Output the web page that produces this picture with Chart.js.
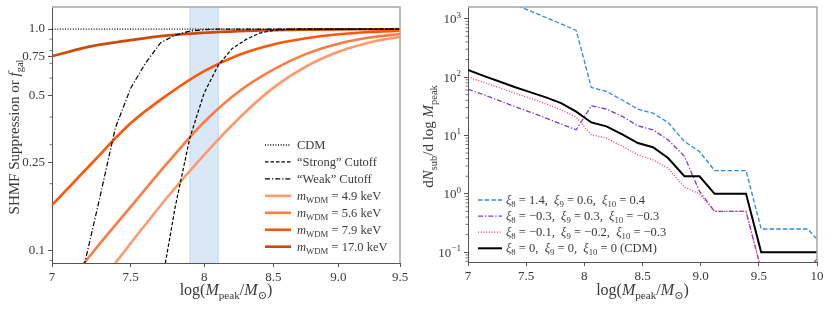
<!DOCTYPE html>
<html>
<head>
<meta charset="utf-8">
<script src="https://cdn.jsdelivr.net/npm/chart.js@4.4.1/dist/chart.umd.min.js"></script>
<style>
  body { margin: 0; background: #fff; }
  #wrap { position: relative; width: 830px; height: 312px; }
  canvas { position: absolute; top: 0; }
</style>
</head>
<body>
<div id="wrap">
  <canvas id="left" width="415" height="312" style="left:0"></canvas>
  <canvas id="right" width="415" height="312" style="left:415px"></canvas>
</div>
<script>
// ---- left panel: SHMF suppression ----
const wdmX = [7.0, 7.25, 7.5, 7.75, 8.0, 8.25, 8.5, 8.75, 9.0, 9.25, 9.5];
const wdm49 = [0.037, 0.064, 0.1075, 0.175, 0.27, 0.396, 0.542, 0.678, 0.789, 0.87, 0.922];
const wdm56 = [0.057, 0.097, 0.157, 0.2495, 0.38, 0.5235, 0.656, 0.772, 0.858, 0.915, 0.95];
const wdm79 = [0.16, 0.248, 0.375, 0.506, 0.645, 0.765, 0.852, 0.908, 0.947, 0.97, 0.983];
const wdm170 = [0.754, 0.837, 0.891, 0.936, 0.962, 0.979, 0.989, 0.994, 0.997, 0.998, 0.999];

const weakX = [7.2, 7.3, 7.4, 7.5, 7.6, 7.7, 7.8, 7.9, 8.0, 8.1, 8.5, 9.0, 9.5];
const weakY = [0.085, 0.173, 0.357, 0.54, 0.704, 0.867, 0.939, 0.979, 0.993, 1.0, 1.0, 1.0, 1.0];
const strongX = [7.7, 7.8, 7.9, 8.0, 8.1, 8.2, 8.3, 8.4, 8.5, 8.6, 8.7, 9.0, 9.5];
const strongY = [0.066, 0.158, 0.322, 0.514, 0.687, 0.817, 0.898, 0.959, 0.986, 0.996, 1.0, 1.0, 1.0];
const cdmX = [7.0, 9.5];
const cdmY = [1.0, 1.0];
const bandRange = [7.9, 8.1];

const leftXTicks = [7, 7.5, 8, 8.5, 9, 9.5];
const leftXLabels = ["7", "7.5", "8", "8.5", "9.0", "9.5"];
const leftYTicks = [0.1, 0.25, 0.5, 0.75, 1.0];
const leftYLabels = ["0.1", "0.25", "0.5", "0.75", "1.0"];
const leftYMinor = [0.09, 0.2, 0.3, 0.4, 0.6, 0.7, 0.8, 0.9];

// ---- right panel: dN/dlogM ----
const subX = [7.0, 7.14, 7.27, 7.4, 7.54, 7.67, 7.8, 7.93, 8.06, 8.19, 8.33, 8.46,
  8.59, 8.72, 8.86, 8.99, 9.12, 9.26, 9.39, 9.52, 9.66, 9.79, 9.92, 10.05];
const blueY = [3680, 2870, 2230, 1730, 1345, 1047, 813, 631, 66.5, 56.8, 40, 28.2,
  24.1, 16.7, 7.9, 5.3, 2.5, 2.5, 2.5, 0.25, 0.25, 0.25, 0.25, 0.13];
const purpleY = [62, 49.5, 39.4, 31.3, 24.9, 19.8, 15.7, 12.5, 32.3, 28.3, 21, 14.6,
  12.5, 8.4, 4.4, 1.1, 0.5, 0.5, 0.5, 0.05, 0.05, 0.05, 0.05, 0.1];
const pinkY = [100, 81, 65.6, 53.2, 43.1, 34.9, 27.5, 20.6, 10.3, 9.0, 6.5, 4.66,
  3.83, 2.75, 1.3, 1.0, 0.5, 0.5, 0.5, 0.05, 0.05, 0.05, 0.05, 0.1];
const cdmSubY = [132, 104, 84, 67.5, 54.6, 44.8, 35.8, 25.5, 16.7, 14.3, 10.3, 7.4,
  6.3, 4.1, 2.0, 2.0, 1.0, 1.0, 1.0, 0.1, 0.1, 0.1, 0.1, 0.1];

const rightXTicks = [7, 7.5, 8, 8.5, 9, 9.5, 10];
const rightXLabels = ["7", "7.5", "8", "8.5", "9.0", "9.5", "10"];
const rightYTicks = [0.1, 1, 10, 100, 1000];
const rightYExp = ["\u22121", "0", "1", "2", "3"];

const FONT = '"Liberation Serif", "DejaVu Serif", serif';
const TXT = "#3a3a3a";
const AX = "#555";

const pts = (xs, ys) => xs.map((x, i) => ({ x, y: ys[i] }));

// draws text made of pieces: r = roman, i = italic, s = subscript, p = superscript
function drawRich(ctx, parts, x, y, size, align) {
  const small = size * 0.7;
  const fontOf = (st) =>
    (st.includes("i") ? "italic " : "") + (st.includes("s") || st.includes("p") ? small : size) + "px " + FONT;
  let w = 0;
  parts.forEach(([t, st]) => { ctx.font = fontOf(st); w += ctx.measureText(t).width; });
  let cx = align === "center" ? x - w / 2 : align === "right" ? x - w : x;
  ctx.textAlign = "left";
  ctx.textBaseline = "alphabetic";
  parts.forEach(([t, st]) => {
    ctx.font = fontOf(st);
    let dy = st.includes("s") ? size * 0.24 : st.includes("p") ? -size * 0.42 : 0;
    ctx.fillText(t, cx, y + dy);
    cx += ctx.measureText(t).width;
  });
}

const deco = {
  id: "deco",
  beforeDatasetsDraw(chart, args, opts) {
    const { ctx, chartArea: a, scales } = chart;
    if (opts.band) {
      const x1 = scales.x.getPixelForValue(opts.band[0]);
      const x2 = scales.x.getPixelForValue(opts.band[1]);
      ctx.save();
      ctx.fillStyle = "rgba(120,170,225,0.28)";
      ctx.fillRect(x1, a.top, x2 - x1, a.bottom - a.top);
      ctx.strokeStyle = "rgba(120,170,225,0.35)";
      ctx.lineWidth = 1;
      ctx.beginPath();
      ctx.moveTo(x1, a.top); ctx.lineTo(x1, a.bottom);
      ctx.moveTo(x2, a.top); ctx.lineTo(x2, a.bottom);
      ctx.stroke();
      ctx.restore();
    }
  },
  afterDraw(chart, args, opts) {
    const { ctx, chartArea: a, scales } = chart;
    ctx.save();
    // top and right spines
    ctx.strokeStyle = "#a6a6a6";
    ctx.lineWidth = 1.5;
    ctx.beginPath();
    ctx.moveTo(a.left, a.top); ctx.lineTo(a.right, a.top); ctx.lineTo(a.right, a.bottom);
    ctx.stroke();
    // minor ticks on the log y axis
    ctx.strokeStyle = AX;
    ctx.lineWidth = 0.8;
    ctx.beginPath();
    opts.minor.forEach((v) => {
      const py = scales.y.getPixelForValue(v);
      if (py < a.top || py > a.bottom) return;
      ctx.moveTo(a.left - 2.5, py); ctx.lineTo(a.left, py);
    });
    ctx.stroke();
    ctx.fillStyle = TXT;
    // power-of-ten labels
    if (opts.expLabels) {
      rightYTicks.forEach((v, i) => {
        const py = scales.y.getPixelForValue(v);
        drawRich(ctx, [["10", "r"], [rightYExp[i], "p"]], a.left - 7, py + 4.5, 13, "right");
      });
    }
    // axis titles
    drawRich(ctx, opts.xTitle, (a.left + a.right) / 2, 295, 16, "center");
    ctx.save();
    ctx.translate(opts.yTitleX, (a.top + a.bottom) / 2 + 2);
    ctx.rotate(-Math.PI / 2);
    drawRich(ctx, opts.yTitle, 0, 0, 15, "center");
    ctx.restore();
    // legend
    const L = opts.legend;
    const items = chart.data.datasets.filter((d) => d.legendParts).sort((p, q) => p.legendRank - q.legendRank);
    items.forEach((d, i) => {
      const yy = L.y0 + L.dy * i;
      ctx.strokeStyle = d.borderColor;
      ctx.lineWidth = d.borderWidth;
      ctx.setLineDash(d.borderDash || []);
      ctx.beginPath();
      ctx.moveTo(L.x0, yy); ctx.lineTo(L.x1, yy);
      ctx.stroke();
      ctx.setLineDash([]);
      ctx.fillStyle = TXT;
      drawRich(ctx, d.legendParts, L.tx, yy + 4, L.size, "left");
    });
    ctx.restore();
  },
};

function axisX(type, min, max, ticks, labels, h) {
  return {
    type, min, max,
    afterBuildTicks: (s) => { s.ticks = ticks.map((v) => ({ value: v })); },
    afterFit: (s) => { s.height = h; s.paddingLeft = 0; s.paddingRight = 0; },
    ticks: {
      callback: (v, i) => labels[i], autoSkip: false, maxRotation: 0, padding: 3,
      font: { family: FONT, size: 13 }, color: TXT,
    },
    grid: { display: true, drawOnChartArea: false, drawTicks: true, tickLength: 4, color: AX },
    border: { display: true, color: AX, width: 1 },
  };
}

function axisY(min, max, ticks, labels, w) {
  return {
    type: "logarithmic", min, max,
    afterBuildTicks: (s) => { s.ticks = ticks.map((v) => ({ value: v })); },
    afterFit: (s) => { s.width = w; s.paddingTop = 0; s.paddingBottom = 0; },
    ticks: {
      callback: (v, i) => (labels ? labels[i] : ""), autoSkip: false, padding: 3,
      font: { family: FONT, size: 13 }, color: TXT,
    },
    grid: { display: true, drawOnChartArea: false, drawTicks: true, tickLength: 4, color: AX },
    border: { display: true, color: AX, width: 1 },
  };
}

const mW = (v) => [["m", "i"], ["WDM", "s"], [" = " + v + " keV", "r"]];
const xi = (a, b, c, tail) => [["\u03be", "i"], ["8", "s"], [" = " + a + ",  ", "r"], ["\u03be", "i"], ["9", "s"],
  [" = " + b + ",  ", "r"], ["\u03be", "i"], ["10", "s"], [" = " + c + (tail || ""), "r"]];
const xTitle = [["log(", "r"], ["M", "i"], ["peak", "s"], ["/", "r"], ["M", "i"], ["\u2299", "s"], [")", "r"]];

const thin = { pointRadius: 0, fill: false, tension: 0, clip: 0 };
const curve = { pointRadius: 0, fill: false, cubicInterpolationMode: "monotone", borderWidth: 2.6, clip: 0 };

new Chart(document.getElementById("left"), {
  type: "line",
  data: {
    datasets: [
      { ...thin, data: pts(cdmX, cdmY), borderColor: "#000", borderWidth: 1.3, borderDash: [1, 1.6],
        legendParts: [["CDM", "r"]], legendRank: 0 },
      { ...thin, data: pts(strongX, strongY), borderColor: "#000", borderWidth: 1.2, borderDash: [3.5, 2],
        legendParts: [["\u201cStrong\u201d Cutoff", "r"]], legendRank: 1 },
      { ...thin, data: pts(weakX, weakY), borderColor: "#000", borderWidth: 1.2, borderDash: [5, 2, 1.2, 2],
        legendParts: [["\u201cWeak\u201d Cutoff", "r"]], legendRank: 2 },
      { ...curve, data: pts(wdmX, wdm49), borderColor: "#fd9a6c", legendParts: mW("4.9"), legendRank: 3 },
      { ...curve, data: pts(wdmX, wdm56), borderColor: "#fc7c43", legendParts: mW("5.6"), legendRank: 4 },
      { ...curve, data: pts(wdmX, wdm79), borderColor: "#ff5608", legendParts: mW("7.9"), legendRank: 5 },
      { ...curve, data: pts(wdmX, wdm170), borderColor: "#cc4a0c", legendParts: mW("17.0"), legendRank: 6 },
    ],
  },
  options: {
    responsive: false, animation: false, events: [],
    layout: { padding: { left: 0, right: 15, top: 7, bottom: 0 } },
    plugins: {
      legend: { display: false }, tooltip: { enabled: false },
      deco: {
        band: bandRange, minor: leftYMinor, xTitle, yTitleX: 19,
        yTitle: [["SHMF Suppression or ", "r"], ["f", "i"], ["gal", "s"]],
        legend: { x0: 265, x1: 291, tx: 297, y0: 145, dy: 16.95, size: 12.5 },
      },
    },
    scales: {
      x: axisX("logarithmic", 7, 9.5, leftXTicks, leftXLabels, 49),
      y: axisY(0.0876, 1.258, leftYTicks, leftYLabels, 52),
    },
  },
  plugins: [deco],
});

const rightMinor = [];
[-2, -1, 0, 1, 2, 3].forEach((e) => { for (let k = 2; k <= 9; k++) rightMinor.push(k * Math.pow(10, e)); });

new Chart(document.getElementById("right"), {
  type: "line",
  data: {
    datasets: [
      { ...thin, data: pts(subX, cdmSubY), borderColor: "#000", borderWidth: 2,
        legendParts: xi("0", "0", "0", " (CDM)"), legendRank: 3 },
      { ...thin, data: pts(subX, pinkY), borderColor: "#ff3377", borderWidth: 1.3, borderDash: [1, 1.7],
        legendParts: xi("\u22120.1", "\u22120.2", "\u22120.3"), legendRank: 2 },
      { ...thin, data: pts(subX, purpleY), borderColor: "#7b3fc8", borderWidth: 1.3, borderDash: [5, 2, 1.3, 2],
        legendParts: xi("\u22120.3", "0.3", "\u22120.3"), legendRank: 1 },
      { ...thin, data: pts(subX, blueY), borderColor: "#3389e0", borderWidth: 1.3, borderDash: [4.5, 2.2],
        legendParts: xi("1.4", "0.6", "0.4"), legendRank: 0 },
    ],
  },
  options: {
    responsive: false, animation: false, events: [],
    layout: { padding: { left: 0, right: 13, top: 7, bottom: 0 } },
    plugins: {
      legend: { display: false }, tooltip: { enabled: false },
      deco: {
        minor: rightMinor, expLabels: true, xTitle, yTitleX: 18,
        yTitle: [["d", "r"], ["N", "i"], ["sub", "s"], ["/d log ", "r"], ["M", "i"], ["peak", "s"]],
        legend: { x0: 63, x1: 87, tx: 91, y0: 200, dy: 16.1, size: 12.5 },
      },
    },
    scales: {
      x: axisX("linear", 7, 10, rightXTicks, rightXLabels, 50),
      y: axisY(0.068, 1585, rightYTicks, null, 53),
    },
  },
  plugins: [deco],
});
</script>
</body>
</html>
